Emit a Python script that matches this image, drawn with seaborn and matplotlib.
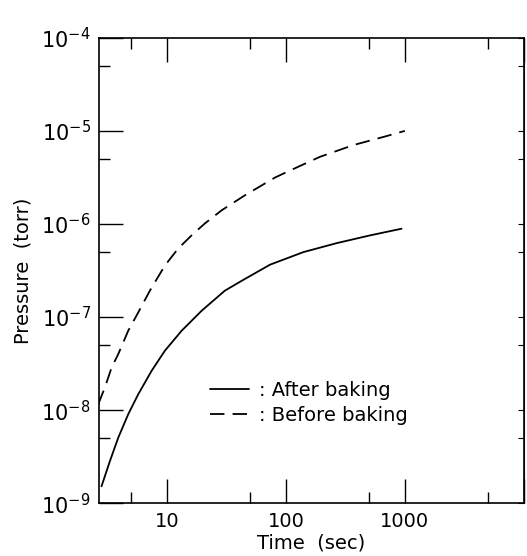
import numpy as np
import pandas as pd
import seaborn as sns
import matplotlib
matplotlib.use("Agg")
import matplotlib.pyplot as plt
from matplotlib.ticker import LogLocator, FixedLocator, NullFormatter

# values
time_after = [2.82, 3.32, 3.90, 4.73, 5.74, 7.43, 9.62, 13.3, 19.6, 30.7,
              42.5, 73.5, 140, 267, 508, 938]
press_after = [1.52e-9, 2.84e-9, 5.06e-9, 9.04e-9, 1.48e-8, 2.64e-8, 4.35e-8,
               7.13e-8, 1.17e-7, 1.92e-7, 2.45e-7, 3.65e-7, 4.98e-7, 6.22e-7,
               7.53e-7, 8.89e-7]

time_before = [2.65, 3.01, 3.43, 3.90, 4.73, 5.74, 7.19, 9.62, 12.4, 16.1,
               20.8, 28.8, 45.2, 80.9, 101, 193, 368, 701, 1000]
press_before = [1.16e-8, 1.75e-8, 2.87e-8, 4.00e-8, 7.13e-8, 1.12e-7, 1.92e-7,
                3.58e-7, 5.42e-7, 7.53e-7, 1.01e-6, 1.40e-6, 2.03e-6, 3.15e-6,
                3.60e-6, 5.26e-6, 7.03e-6, 8.79e-6, 1.0e-5]

x_ticks = [10, 100, 1000, 10000]
x_tick_labels = ["10", "100", "1000", ""]
y_ticks = [1e-9, 1e-8, 1e-7, 1e-6, 1e-5, 1e-4]
y_tick_labels = [r"$10^{-9}$", r"$10^{-8}$", r"$10^{-7}$", r"$10^{-6}$",
                 r"$10^{-5}$", r"$10^{-4}$"]

df_after = pd.DataFrame({"Time": time_after, "Pressure": press_after})
df_before = pd.DataFrame({"Time": time_before, "Pressure": press_before})

sns.set_style("ticks")
plt.rcParams["font.family"] = ["DejaVu Sans"]
plt.rcParams["mathtext.fontset"] = "dejavusans"
plt.rcParams["text.color"] = "black"
plt.rcParams["axes.labelcolor"] = "black"
plt.rcParams["xtick.color"] = "black"
plt.rcParams["ytick.color"] = "black"

fig = plt.figure(figsize=(5.27, 5.56), dpi=100)
ax = fig.add_axes([0.188, 0.095, 0.806, 0.837])

sns.lineplot(data=df_after, x="Time", y="Pressure", ax=ax, color="black",
             linewidth=1.3, label=": After baking")
sns.lineplot(data=df_before, x="Time", y="Pressure", ax=ax, color="black",
             linewidth=1.3, linestyle=(0, (8, 4.5)), label=": Before baking")

ax.set_xscale("log")
ax.set_yscale("log")
ax.set_xlim(2.69, 10000)
ax.set_ylim(1e-9, 1e-4)

ax.xaxis.set_major_locator(FixedLocator(x_ticks))
ax.set_xticklabels(x_tick_labels)
ax.xaxis.set_minor_locator(LogLocator(base=10, subs=[5]))
ax.xaxis.set_minor_formatter(NullFormatter())
ax.yaxis.set_major_locator(FixedLocator(y_ticks))
ax.set_yticklabels(y_tick_labels)
ax.yaxis.set_minor_locator(LogLocator(base=10, subs=[5]))
ax.yaxis.set_minor_formatter(NullFormatter())

ax.tick_params(which="major", direction="in", length=17, width=1.0,
               top=True, right=False, labelsize=15, pad=6, color="black",
               labelcolor="black")
ax.tick_params(which="minor", direction="in", length=8, width=1.0,
               top=True, right=False, color="black")
ax.tick_params(axis="x", which="both", labelsize=14)

# short ticks on the right side
sec = ax.secondary_yaxis("right")
sec.set_yscale("log")
sec.yaxis.set_major_locator(FixedLocator(y_ticks))
sec.yaxis.set_minor_locator(LogLocator(base=10, subs=[5]))
sec.tick_params(which="both", direction="in", length=4, width=0.8,
                labelright=False, color="black")
sec.yaxis.set_minor_formatter(NullFormatter())

for s in ax.spines.values():
    s.set_linewidth(1.2)
    s.set_color("black")

ax.set_xlabel("Time  (sec)", fontsize=14, labelpad=2, color="black")
ax.set_ylabel("Pressure  (torr)", fontsize=14, labelpad=6, color="black")

leg = ax.legend(loc="center left", bbox_to_anchor=(0.22, 0.215), frameon=False,
                fontsize=14, handlelength=2.0, handletextpad=0.5,
                labelspacing=0.3)
for t in leg.get_texts():
    t.set_color("black")

plt.savefig("out.png", dpi=100)
